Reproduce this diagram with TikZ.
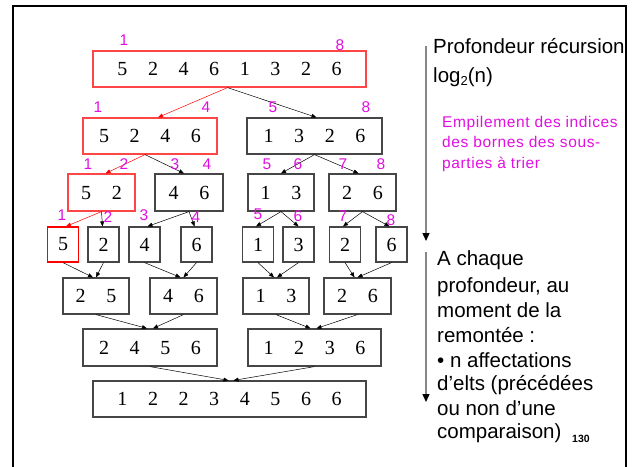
\documentclass[tikz,border=0pt]{standalone}
\usepackage{fontspec}
\setmainfont{Liberation Serif}
\newfontfamily\sansfam{Liberation Sans}
\newfontfamily\sansspaced[LetterSpace=4]{Liberation Sans}
\usetikzlibrary{arrows.meta}
\definecolor{boxgray}{RGB}{70,70,70}
\definecolor{boxred}{RGB}{255,70,70}
\definecolor{labmag}{RGB}{225,15,225}
\definecolor{railgray}{RGB}{135,135,135}
\newcommand\dgap{\hspace{20.6pt}}
\tikzset{
  box/.style={draw=boxgray, line width=1.2pt, inner sep=0pt, minimum height=36pt,
              font=\fontsize{20}{20}\selectfont},
  redbox/.style={box, draw=boxred},
  lab/.style={text=labmag, inner sep=0pt, font=\sansfam\fontsize{15.5}{15.5}\selectfont},
  arr/.style={-{Triangle[length=5pt,width=4pt]}, line width=0.5pt},
  rail/.style={railgray, line width=1.4pt, -{Triangle[length=8pt,width=7pt,color=black]}},
  txt/.style={anchor=base west, inner sep=0pt, font=\sansfam\fontsize{20.5}{22}\selectfont},
  mtxt/.style={anchor=base west, inner sep=0pt, text=labmag, font=\sansspaced\fontsize{15.5}{16}\selectfont}
}
\begin{document}
\begin{tikzpicture}[x=1pt,y=-1pt]
\useasboundingbox (0,0) rectangle (636,466);
% outer frame, open at the bottom
\draw[line width=2pt] (13,470) -- (13,6) -- (626,6) -- (626,470);

% splitting levels
\node[redbox, minimum width=273pt] (t) at (229.5,69) {5\dgap2\dgap4\dgap6\dgap1\dgap3\dgap2\dgap6};
\node[redbox, minimum width=134pt] (a) at (150,136) {5\dgap2\dgap4\dgap6};
\node[box, minimum width=135pt] (b) at (314.5,136) {1\dgap3\dgap2\dgap6};
\node[redbox, minimum width=67pt, minimum height=37pt] (c1) at (101.5,192.5) {5\dgap2};
\node[box, minimum width=68pt, minimum height=37pt] (c2) at (189,192.5) {4\dgap6};
\node[box, minimum width=66pt, minimum height=37pt] (c3) at (281,192.5) {1\dgap3};
\node[box, minimum width=67pt, minimum height=37pt] (c4) at (362.5,192.5) {2\dgap6};
\node[redbox, draw=red, minimum width=31pt, minimum height=35pt] (d1) at (63,244.5) {5};
\node[box, minimum width=31pt, minimum height=35pt] (d2) at (103.5,244.5) {2};
\node[box, minimum width=31pt, minimum height=35pt] (d3) at (144.5,244.5) {4};
\node[box, minimum width=31pt, minimum height=35pt] (d4) at (196.5,244.5) {6};
\node[box, minimum width=31pt, minimum height=35pt] (d5) at (258,244.5) {1};
\node[box, minimum width=31pt, minimum height=35pt] (d6) at (298.5,244.5) {3};
\node[box, minimum width=31pt, minimum height=35pt] (d7) at (345,244.5) {2};
\node[box, minimum width=31pt, minimum height=35pt] (d8) at (391.5,244.5) {6};

% merging levels
\node[box, minimum width=66pt] (e1) at (96,296) {2\dgap5};
\node[box, minimum width=67pt] (e2) at (183.5,296) {4\dgap6};
\node[box, minimum width=66pt] (e3) at (276,296) {1\dgap3};
\node[box, minimum width=67pt] (e4) at (357.5,296) {2\dgap6};
\node[box, minimum width=134pt, minimum height=37pt] (f1) at (150,347.5) {2\dgap4\dgap5\dgap6};
\node[box, minimum width=133pt, minimum height=37pt] (f2) at (314.5,347.5) {1\dgap2\dgap3\dgap6};
\node[box, minimum width=273pt] (g) at (229.5,399) {1\dgap2\dgap2\dgap3\dgap4\dgap5\dgap6\dgap6};

% split arrows
\draw[arr, red] ([xshift=-2pt]t.south) -- ([xshift=8pt]a.north);
\draw[arr] ([xshift=-2pt]t.south) -- ([xshift=2pt]b.north);
\draw[arr, red] ([xshift=-5pt]a.south) -- ([xshift=4pt]c1.north);
\draw[arr] ([xshift=-5pt]a.south) -- ([xshift=-5pt]c2.north);
\draw[arr] (b.south) -- (c3.north);
\draw[arr] (b.south) -- ([xshift=-4pt]c4.north);
\draw[arr, red] (c1.south) -- ([xshift=3pt]d1.north);
\draw[arr] (c1.south) -- ([xshift=-1pt]d2.north);
\draw[arr] (c2.south) -- ([xshift=3pt]d3.north);
\draw[arr] (c2.south) -- ([xshift=-2pt]d4.north);
\draw[arr] (c3.south) -- ([xshift=-2pt]d5.north);
\draw[arr] (c3.south) -- (d6.north);
\draw[arr] (c4.south) -- ([xshift=-2pt]d7.north);
\draw[arr] (c4.south) -- ([xshift=-2pt]d8.north);

% merge arrows
\draw[arr] (d1.south) -- ([xshift=-3pt]e1.north);
\draw[arr] (d2.south) -- ([xshift=0pt]e1.north);
\draw[arr] (d3.south) -- ([xshift=-3pt]e2.north);
\draw[arr] (d4.south) -- ([xshift=0pt]e2.north);
\draw[arr] (d5.south) -- ([xshift=-2pt]e3.north);
\draw[arr] (d6.south) -- ([xshift=1pt]e3.north);
\draw[arr] (d7.south) -- ([xshift=-3pt]e4.north);
\draw[arr] (d8.south) -- ([xshift=0pt]e4.north);
\draw[arr] (e1.south) -- ([xshift=-3pt]f1.north);
\draw[arr] (e2.south) -- ([xshift=3pt]f1.north);
\draw[arr] (e3.south) -- ([xshift=-4pt]f2.north);
\draw[arr] (e4.south) -- ([xshift=2pt]f2.north);
\draw[arr] (f1.south) -- ([xshift=-1pt]g.north);
\draw[arr] (f2.south) -- ([xshift=4pt]g.north);

% index bounds
\node[lab] (l11) at (124,40) {1};
\node[lab] (l18) at (340,45) {8};
\node[lab] (l21) at (98,107) {1};
\node[lab] (l24) at (206,107) {4};
\node[lab] (l25) at (273,107) {5};
\node[lab] (l28) at (366,107) {8};
\node[lab] (l31) at (88,164) {1};
\node[lab] (l32) at (124,164) {2};
\node[lab] (l33) at (175,164) {3};
\node[lab] (l34) at (207,164) {4};
\node[lab] (l35) at (267,164) {5};
\node[lab] (l36) at (298,164) {6};
\node[lab] (l37) at (343,164) {7};
\node[lab] (l38) at (381,164) {8};
\node[lab] (l41) at (62,215) {1};
\node[lab] (l42) at (108,217) {2};
\node[lab] (l43) at (144,215) {3};
\node[lab] (l44) at (196,217) {4};
\node[lab] (l45) at (258,214) {5};
\node[lab] (l46) at (298,216) {6};
\node[lab] (l47) at (343,216) {7};
\node[lab] (l48) at (391,220) {8};

% depth rails
\coordinate (r1a) at (426,46);
\coordinate (r1b) at (426,241);
\coordinate (r2a) at (426,252);
\coordinate (r2b) at (426,402);
\draw[rail] (r1a) -- (r1b);
\draw[rail] (r2a) -- (r2b);

% side notes
\node[txt] (p1) at (433,53) {Profondeur récursion};
\node[txt] (p2) at (433,82) {log\raisebox{-3pt}{\fontsize{13}{13}\selectfont 2}(n)};
\node[mtxt] (m1) at (442,127) {Empilement des indices};
\node[mtxt] (m2) at (442,147) {des bornes des sous-};
\node[mtxt] (m3) at (442,168) {parties à trier};
\node[txt] (q1) at (437,265) {A chaque};
\node[txt] (q2) at (437,292) {profondeur, au};
\node[txt] (q3) at (437,317) {moment de la};
\node[txt] (q4) at (437,342) {remontée :};
\node[txt] (q5) at (437,367) {• n affectations};
\node[txt] (q6) at (437,390) {d’elts (précédées};
\node[txt] (q7) at (437,415) {ou non d’une};
\node[txt] (q8) at (437,438) {comparaison)};
\node[anchor=base west, inner sep=0pt, font=\sansfam\bfseries\fontsize{10.5}{11}\selectfont] (pg) at (572,442) {130};
\end{tikzpicture}
\end{document}
